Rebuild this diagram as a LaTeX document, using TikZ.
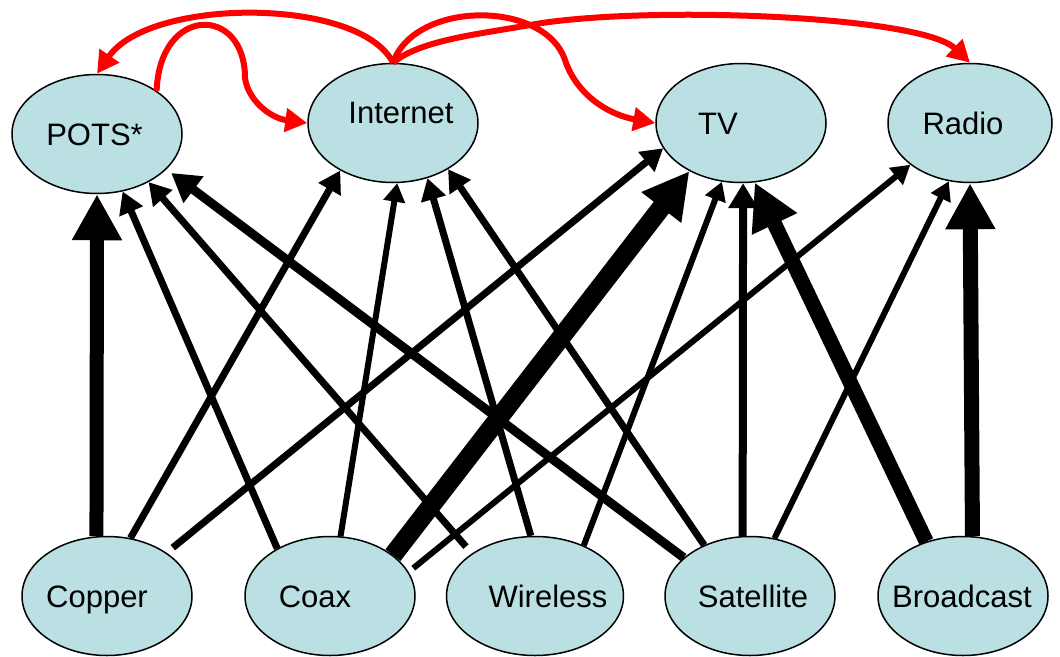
\documentclass[tikz,border=0pt]{standalone}
\usepackage{fontspec}
\setmainfont{Liberation Sans}
\usetikzlibrary{shapes.geometric,arrows.meta}
\definecolor{mediafill}{RGB}{186,224,228}
\begin{document}
\begin{tikzpicture}[x=1pt,y=-1pt]
		\tikzset{media/.style = {shape=ellipse, draw, line width=1.5pt, fill=mediafill, inner sep=0pt, minimum width=170pt, minimum height=119pt}}
		\tikzset{mediatext/.style = {font=\fontsize{31}{37}\selectfont, text height=22pt, text depth=0pt, inner sep=0pt}}
		\tikzset{link/.style = {line width=7pt, -{Triangle[length=0pt 3.1, width=0pt 3.5]}}}
		\tikzset{fat/.style = {line width=#1, -{Triangle[length=46pt, width=47pt]}}}
		\tikzset{redarc/.style = {red, line width=6pt, -{Triangle[length=22pt, width=23pt]}}}

		\useasboundingbox (0,0) rectangle (1060,656);

		\node[media,label={[mediatext,xshift=-2.5pt]center:POTS*}] (pots) at (97,134) {};
		\node[media,label={[mediatext,xshift=8pt,yshift=10.5pt]center:Internet}] (inet) at (393,123) {};
		\node[media,label={[mediatext,xshift=-23pt]center:TV}] (tv) at (741,123) {};
		\node[media,minimum width=164pt,label={[mediatext,xshift=-7pt]center:Radio}] (radio) at (970,123) {};

		\node[media,label={[mediatext,xshift=-10pt]center:Copper}] (copper) at (107,596) {};
		\node[media,label={[mediatext,xshift=-15pt]center:Coax}] (coax) at (330,596) {};
		\node[media,minimum width=177pt,label={[mediatext,xshift=13pt]center:Wireless}] (wless) at (535,596) {};
		\node[media,label={[mediatext,xshift=3pt]center:Satellite}] (sat) at (750,596) {};
		\node[media,label={[mediatext,xshift=-1pt]center:Broadcast}] (bcast) at (963,596) {};

		% into POTS*
		\draw[fat=14pt] (copper.100) -- (pots.270);
		\draw[link] (coax.138) -- (pots.294);
		\draw[link, shorten <=9pt] (wless.146) -- (pots.317);
		\draw[link, line width=9pt, shorten >=6pt] (sat.150) -- (pots.333);

		% into Internet
		\draw[link] (copper.68) -- (inet.222);
		\draw[link, line width=6pt] (coax.80) -- (inet.274);
		\draw[link] (wless.94) -- (inet.302);
		\draw[link] (sat.132) -- (inet.320);

		% into TV
		\draw[link, shorten <=8pt] (copper.36) -- (tv.198);
		\draw[fat=19pt] (coax.33) -- (tv.223);
		\draw[link, line width=6pt] (wless.46) -- (tv.252);
		\draw[link, line width=8pt] (sat.97) -- (tv.272);
		\draw[fat=15pt] (bcast.124) -- (tv.283);

		% into Radio
		\draw[link, line width=6pt, shorten <=6pt] (coax.17) -- (radio.215);
		\draw[link, line width=6pt] (sat.67) -- (radio.250);
		\draw[fat=15pt] (bcast.81) -- (radio.270);

		% red arcs
		\draw[redarc] (inet.90) .. controls (360,-3) and (150,-3) .. (pots.90);
		\draw[redarc] (pots.36) .. controls (160,5) and (245,5) .. (245,78) .. controls (248,100) and (270,118) .. (inet.180);
		\draw[redarc] (inet.90) .. controls (415,0) and (545,0) .. (565,60) .. controls (577,96) and (610,115) .. (tv.180);
		\draw[redarc] (inet.90) .. controls (420,40) and (480,34) .. (530,25) .. controls (640,5) and (920,15) .. (radio.90);

	\end{tikzpicture}
\end{document}
